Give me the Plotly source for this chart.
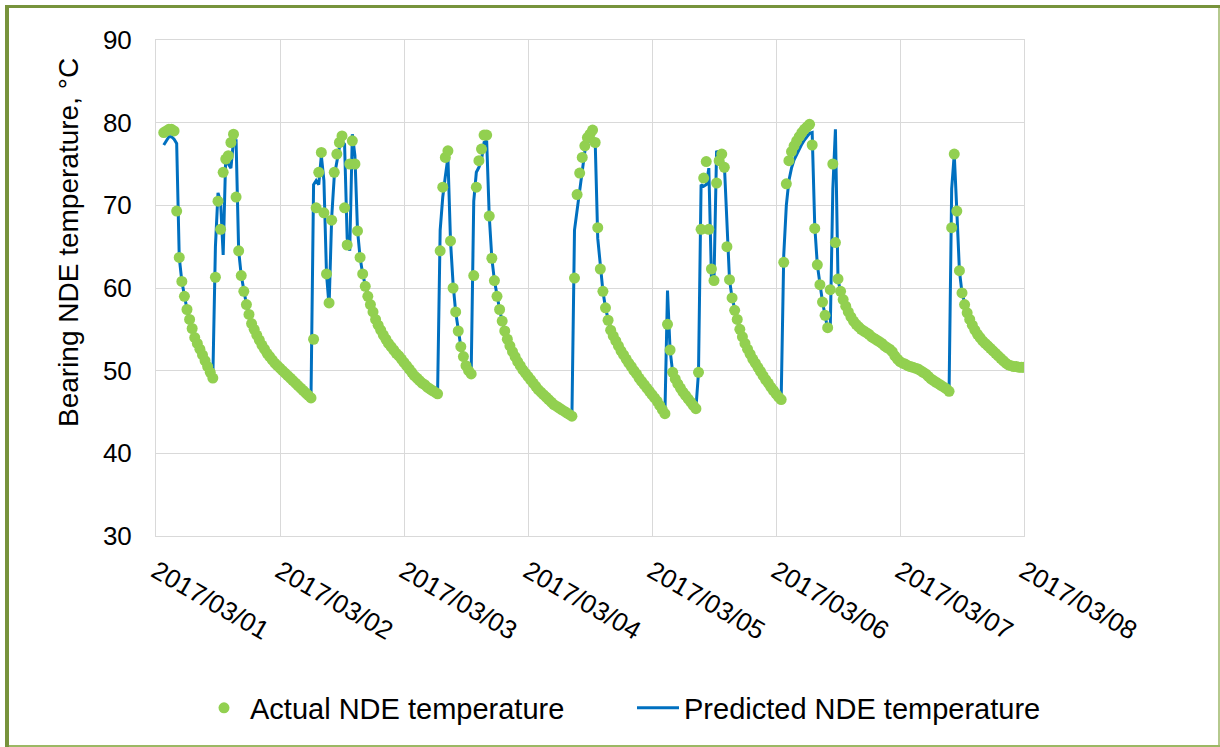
import pandas as pd
import plotly.graph_objects as go

# ---------------- data (30-minute samples, 2017/03/01 00:00 .. 2017/03/08 00:00) ----------------
start_time = "2017-03-01 00:00"
step = "30min"

actual_temp = [
    # 03/01
    None, None, None, 78.8, 79.0, 79.2, 79.2, 79.0, 69.3, 63.7, 60.8, 59.0,
    57.4, 56.2, 55.1, 54.0, 53.3, 52.6, 51.9, 51.2, 50.5, 49.8, 49.1, 61.3,
    70.5, 67.1, 74.0, 75.6, 76.0, 77.6, 78.6, 71.0, 64.5, 61.5, 59.6, 58.0,
    56.8, 55.7, 55.0, 54.3, 53.7, 53.1, 52.6, 52.1, 51.7, 51.3, 50.9, 50.6,
    # 03/02
    50.3, 50.0, 49.7, 49.4, 49.1, 48.8, 48.5, 48.2, 47.9, 47.6, 47.3, 47.0,
    46.7, 53.8, 69.7, 74.0, 76.4, 69.1, 61.7, 58.2, 68.2, 74.0, 76.2, 77.6,
    78.4, 69.7, 65.2, 75.0, 77.8, 75.0, 66.9, 63.7, 61.7, 60.2, 59.0, 58.0,
    57.1, 56.2, 55.5, 54.9, 54.3, 53.8, 53.3, 52.9, 52.5, 52.1, 51.8, 51.4,
    # 03/03
    51.0, 50.6, 50.2, 49.8, 49.4, 49.1, 48.8, 48.5, 48.3, 48.0, 47.8, 47.6,
    47.4, 47.2, 64.5, 72.2, 75.8, 76.6, 65.7, 60.0, 57.1, 54.8, 52.9, 51.7,
    50.6, 50.0, 49.6, 61.5, 72.2, 75.4, 76.8, 78.5, 78.5, 68.7, 63.6, 60.9,
    59.0, 57.4, 56.0, 54.8, 53.8, 53.0, 52.3, 51.7, 51.1, 50.6, 50.1, 49.7,
    # 03/04
    49.3, 48.9, 48.5, 48.1, 47.7, 47.4, 47.1, 46.8, 46.5, 46.2, 45.9, 45.7,
    45.5, 45.3, 45.1, 44.9, 44.7, 44.5, 61.2, 71.3, 73.9, 75.8, 77.2, 78.2,
    78.6, 79.1, 77.6, 67.3, 62.3, 59.6, 57.6, 56.1, 54.9, 54.2, 53.6, 53.0,
    52.4, 51.9, 51.4, 50.9, 50.5, 50.0, 49.6, 49.1, 48.7, 48.3, 47.9, 47.5,
    # 03/05
    47.1, 46.7, 46.3, 45.8, 45.3, 44.8, 55.6, 52.5, 49.8, 49.0, 48.4, 47.9,
    47.4, 47.0, 46.6, 46.2, 45.8, 45.4, 49.8, 67.1, 73.3, 75.3, 67.1, 62.3,
    60.9, 72.7, 75.4, 76.2, 74.6, 65.0, 61.0, 58.8, 57.3, 56.2, 55.0, 54.1,
    53.3, 52.6, 52.0, 51.4, 50.9, 50.4, 49.9, 49.4, 48.9, 48.5, 48.0, 47.6,
    # 03/06
    47.2, 46.8, 46.5, 63.1, 72.6, 75.4, 76.5, 77.2, 77.8, 78.3, 78.8, 79.2,
    79.5, 79.8, 77.3, 67.2, 62.8, 60.4, 58.3, 56.7, 55.2, 59.8, 75.0, 65.5,
    61.1, 59.6, 58.6, 57.8, 57.1, 56.5, 56.0, 55.6, 55.3, 55.0, 54.8, 54.6,
    54.4, 54.1, 53.9, 53.7, 53.5, 53.3, 53.0, 52.8, 52.6, 52.3, 51.8, 51.4,
    # 03/07
    51.1, 50.9, 50.8, 50.6, 50.5, 50.4, 50.3, 50.2, 50.0, 49.8, 49.6, 49.3,
    49.0, 48.8, 48.6, 48.4, 48.2, 48.0, 47.8, 47.5, 67.3, 76.2, 69.3, 62.1,
    59.4, 58.0, 57.0, 56.2, 55.5, 54.9, 54.4, 54.0, 53.6, 53.3, 53.0, 52.7,
    52.4, 52.1, 51.8, 51.5, 51.2, 50.9, 50.7, 50.6, 50.5, 50.5, 50.4, 50.4,
    # 03/08 00:00
    50.4,
]

predicted_temp = [
    # 03/01
    None, None, None, 77.3, 77.8, 78.3, 78.3, 78.0, 77.5, 63.7, 60.8, 59.0,
    57.4, 56.2, 55.1, 54.0, 53.3, 52.6, 51.9, 51.2, 50.5, 49.8, 49.1, 65.0,
    71.5, 70.5, 64.0, 76.0, 75.0, 74.5, 77.8, 77.8, 64.5, 61.5, 59.6, 58.0,
    56.8, 55.7, 55.0, 54.3, 53.7, 53.1, 52.6, 52.1, 51.7, 51.3, 50.9, 50.6,
    # 03/02
    50.3, 50.0, 49.7, 49.4, 49.1, 48.8, 48.5, 48.2, 47.9, 47.6, 47.3, 47.0,
    46.7, 72.5, 73.0, 72.5, 76.0, 73.0, 61.7, 57.8, 68.5, 73.5, 75.5, 77.0,
    77.8, 77.4, 66.0, 64.5, 78.6, 76.0, 67.0, 63.7, 61.7, 60.2, 59.0, 58.0,
    57.1, 56.2, 55.5, 54.9, 54.3, 53.8, 53.3, 52.9, 52.5, 52.1, 51.8, 51.4,
    # 03/03
    51.0, 50.6, 50.2, 49.8, 49.4, 49.1, 48.8, 48.5, 48.3, 48.0, 47.8, 47.6,
    47.4, 47.2, 67.0, 71.0, 73.5, 75.8, 65.7, 60.5, 57.1, 54.8, 52.9, 51.7,
    50.6, 50.0, 49.6, 70.5, 74.0, 74.6, 75.5, 77.6, 77.8, 68.7, 63.6, 60.9,
    59.0, 57.4, 56.0, 54.8, 53.8, 53.0, 52.3, 51.7, 51.1, 50.6, 50.1, 49.7,
    # 03/04
    49.3, 48.9, 48.5, 48.1, 47.7, 47.4, 47.1, 46.8, 46.5, 46.2, 45.9, 45.7,
    45.5, 45.3, 45.1, 44.9, 44.7, 44.5, 67.0, 69.5, 71.5, 74.5, 76.5, 77.5,
    78.0, 78.2, 77.8, 66.0, 62.3, 59.6, 57.6, 56.1, 54.9, 54.2, 53.6, 53.0,
    52.4, 51.9, 51.4, 50.9, 50.5, 50.0, 49.6, 49.1, 48.7, 48.3, 47.9, 47.5,
    # 03/05
    47.1, 46.7, 46.3, 45.8, 45.3, 44.8, 59.7, 52.5, 49.8, 49.0, 48.4, 47.9,
    47.4, 47.0, 46.6, 46.2, 45.8, 45.4, 49.8, 72.5, 72.3, 72.5, 74.5, 61.3,
    61.0, 76.6, 76.0, 75.4, 75.0, 67.0, 61.0, 58.8, 57.3, 56.2, 55.0, 54.1,
    53.3, 52.6, 52.0, 51.4, 50.9, 50.4, 49.9, 49.4, 48.9, 48.5, 48.0, 47.6,
    # 03/06
    47.2, 46.8, 46.5, 64.0, 70.0, 73.0, 74.5, 75.5, 76.2, 76.9, 77.4, 77.9,
    78.3, 78.7, 78.8, 67.5, 62.8, 60.4, 58.3, 56.7, 55.0, 55.0, 72.0, 79.2,
    61.0, 59.6, 58.6, 57.8, 57.1, 56.5, 56.0, 55.6, 55.3, 55.0, 54.8, 54.6,
    54.4, 54.1, 53.9, 53.7, 53.5, 53.3, 53.0, 52.8, 52.6, 52.3, 51.8, 51.4,
    # 03/07
    51.1, 50.9, 50.8, 50.6, 50.5, 50.4, 50.3, 50.2, 50.0, 49.8, 49.6, 49.3,
    49.0, 48.8, 48.6, 48.4, 48.2, 48.0, 47.8, 47.5, 72.0, 76.2, 69.3, 62.1,
    59.4, 58.0, 57.0, 56.2, 55.5, 54.9, 54.4, 54.0, 53.6, 53.3, 53.0, 52.7,
    52.4, 52.1, 51.8, 51.5, 51.2, 50.9, 50.7, 50.6, 50.5, 50.5, 50.4, 50.4,
    # 03/08 00:00
    50.4,
]

series_names = ["Actual NDE temperature", "Predicted NDE temperature"]
y_title = "Bearing NDE temperature, °C"
x_range = ["2017-03-01", "2017-03-08"]
y_range = [30, 90]

times = pd.date_range(start_time, periods=len(actual_temp), freq=step)

FONT = "Liberation Sans, Arial, Helvetica, sans-serif"
GREEN = "#92D050"
BLUE = "#0070C0"
GRID = "#D9D9D9"

fig = go.Figure()
fig.add_trace(go.Scatter(
    x=times, y=predicted_temp, mode="lines", name=series_names[1],
    line=dict(color=BLUE, width=3), connectgaps=False,
))
fig.add_trace(go.Scatter(
    x=times, y=actual_temp, mode="markers", name=series_names[0],
    marker=dict(color=GREEN, size=11, line=dict(width=0)),
))

W, H = 1220, 747
L, R, T, B = 156, 196, 40, 211
pw, ph = W - L - R, H - T - B


def px(x):
    return (x - L) / pw


def py(y):
    return (H - B - y) / ph


fig.update_layout(
    width=W, height=H,
    margin=dict(l=L, r=R, t=T, b=B, pad=0),
    paper_bgcolor="white", plot_bgcolor="white",
    font=dict(family=FONT, color="#000000", size=26),
    showlegend=True,
    legend=dict(
        orientation="h", traceorder="reversed",
        x=px(198), xanchor="left", y=py(708), yanchor="middle",
        font=dict(size=29, family=FONT, color="#000000"),
        bgcolor="rgba(0,0,0,0)", itemwidth=42, entrywidth=377,
    ),
    xaxis=dict(
        type="date", range=x_range, dtick=86400000, tick0="2017-03-01",
        tickformat="%Y/%m/%d", tickangle=30,
        showgrid=True, gridcolor=GRID, gridwidth=1,
        showline=True, linecolor=GRID, linewidth=1, mirror=True,
        ticks="", tickfont=dict(size=26, family=FONT, color="#000000"),
        ticklabelstandoff=9, zeroline=False,
    ),
    yaxis=dict(
        range=y_range, dtick=10, tick0=30,
        showgrid=True, gridcolor=GRID, gridwidth=1,
        showline=True, linecolor=GRID, linewidth=1, mirror=True,
        ticks="", tickfont=dict(size=26, family=FONT, color="#000000"),
        ticklabelstandoff=18, zeroline=False,
    ),
    annotations=[dict(
        text=y_title, textangle=-90, showarrow=False,
        xref="paper", yref="paper", x=px(68), y=py(243),
        xanchor="center", yanchor="middle",
        font=dict(size=28, family=FONT, color="#000000"),
    )],
    shapes=[
        # outer frame (olive)
        dict(type="rect", xref="paper", yref="paper", x0=px(5), x1=px(9), y0=py(747), y1=py(5),
             fillcolor="#77933C", line=dict(width=0), layer="above"),
        dict(type="rect", xref="paper", yref="paper", x0=px(5), x1=px(1220), y0=py(8), y1=py(5),
             fillcolor="#77933C", line=dict(width=0), layer="above"),
        dict(type="rect", xref="paper", yref="paper", x0=px(1218), x1=px(1220), y0=py(747), y1=py(8),
             fillcolor="#B5C98E", line=dict(width=0), layer="above"),
        dict(type="rect", xref="paper", yref="paper", x0=px(9), x1=px(1220), y0=py(747), y1=py(745),
             fillcolor="#9BB864", line=dict(width=0), layer="above"),
    ],
)

fig.write_html("out.html")
